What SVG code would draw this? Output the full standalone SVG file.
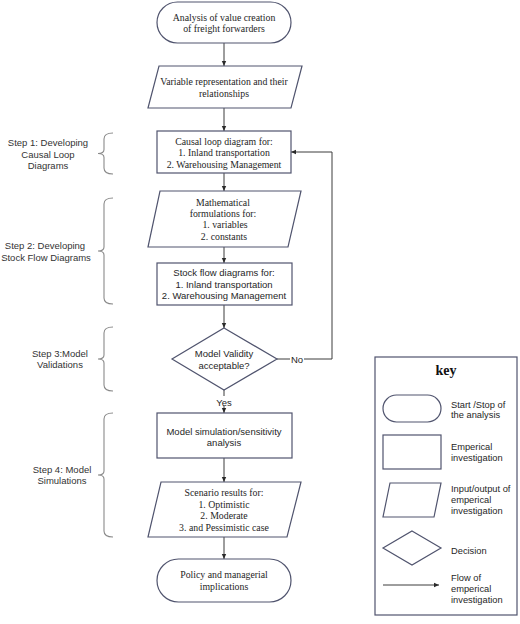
<svg xmlns="http://www.w3.org/2000/svg" width="520" height="624" viewBox="0 0 520 624">
<style>
.shape{fill:#fff;stroke:#50546e;stroke-width:1.2}
.conn{fill:none;stroke:#3c3c3c;stroke-width:1}
.brace{fill:none;stroke:#8a8a8a;stroke-width:1.1}
.serif{font-family:"Liberation Serif","Times New Roman",serif;font-size:9.8px;fill:#1e1e1e;text-anchor:middle}
.sans{font-family:"Liberation Sans",Arial,sans-serif;font-size:9.5px;fill:#262626;text-anchor:middle}
.keyt{font-family:"Liberation Sans",Arial,sans-serif;font-size:9.3px;fill:#262626;text-anchor:start}
.step{font-family:"Liberation Sans",Arial,sans-serif;font-size:9.5px;fill:#333;text-anchor:middle}
</style>
<defs>
<marker id="ah" markerWidth="6" markerHeight="6" refX="5" refY="3" orient="auto" markerUnits="userSpaceOnUse">
<path d="M0,0.8 L5,3 L0,5.2 Z" fill="#2a2a2a"/>
</marker>
</defs>
<rect x="0" y="0" width="520" height="624" fill="#fff"/>

<g id="connectors">
<line class="conn" x1="224" y1="43" x2="224" y2="66" marker-end="url(#ah)"/>
<line class="conn" x1="224" y1="108" x2="224" y2="131" marker-end="url(#ah)"/>
<line class="conn" x1="224" y1="173" x2="224" y2="191" marker-end="url(#ah)"/>
<line class="conn" x1="224" y1="247" x2="224" y2="263" marker-end="url(#ah)"/>
<line class="conn" x1="224" y1="305" x2="224" y2="328" marker-end="url(#ah)"/>
<line class="conn" x1="224" y1="390" x2="224" y2="396"/>
<line class="conn" x1="224" y1="406" x2="224" y2="413" marker-end="url(#ah)"/>
<line class="conn" x1="224" y1="458" x2="224" y2="482" marker-end="url(#ah)"/>
<line class="conn" x1="224" y1="537" x2="224" y2="559" marker-end="url(#ah)"/>
<line class="conn" x1="277" y1="359" x2="290" y2="359"/>
<polyline class="conn" points="304,359 332,359 332,152 291,152" marker-end="url(#ah)"/>
<text class="sans" x="224" y="405.5">Yes</text>
<text class="sans" x="297" y="362.5">No</text>
</g>

<g id="braces">
<path class="brace" d="M113,133 Q104,133 104,139 L104,149.5 Q104,153.5 98,153.5 Q104,153.5 104,157.5 L104,168 Q104,174 113,174"/>
<path class="brace" d="M113,198 Q104,198 104,204 L104,247 Q104,251 98,251 Q104,251 104,255 L104,298 Q104,304 113,304"/>
<path class="brace" d="M113,327 Q104,327 104,333 L104,355 Q104,359 98,359 Q104,359 104,363 L104,385 Q104,391 113,391"/>
<path class="brace" d="M113,413 Q104,413 104,419 L104,471 Q104,475 98,475 Q104,475 104,479 L104,531 Q104,537 113,537"/>
</g>

<g id="step1">
<text class="step" x="48" y="145.5">Step 1: Developing</text>
<text class="step" x="48" y="157.5">Causal Loop</text>
<text class="step" x="48" y="168.5">Diagrams</text>
</g>
<g id="step2">
<text class="step" x="45" y="248.5">Step 2: Developing</text>
<text class="step" x="46" y="260.5">Stock Flow Diagrams</text>
</g>
<g id="step3">
<text class="step" x="60" y="356.5">Step 3:Model</text>
<text class="step" x="60" y="367.5">Validations</text>
</g>
<g id="step4">
<text class="step" x="62" y="472.5">Step 4: Model</text>
<text class="step" x="62" y="483.5">Simulations</text>
</g>

<g id="start">
<rect class="shape" x="157" y="2" width="134" height="41" rx="20.5"/>
<text class="serif" x="224" y="20.5">Analysis of value creation</text>
<text class="serif" x="224" y="31.5">of freight forwarders</text>
</g>
<g id="variables">
<polygon class="shape" points="159,66 302,66 291,108 148,108"/>
<text class="serif" x="224" y="84.5">Variable representation and their</text>
<text class="serif" x="224" y="96.5">relationships</text>
</g>
<g id="causal">
<rect class="shape" x="157" y="131" width="134" height="42"/>
<text class="serif" x="224" y="144.5">Causal loop diagram for:</text>
<text class="serif" x="224" y="155.5">1. Inland transportation</text>
<text class="serif" x="224" y="167.5">2. Warehousing Management</text>
</g>
<g id="math">
<polygon class="shape" points="160,191 301,191 288,247 148,247"/>
<text class="serif" x="223" y="205.5">Mathematical</text>
<text class="serif" x="223" y="216.5">formulations for:</text>
<text class="serif" x="225" y="227.5">1. variables</text>
<text class="serif" x="224" y="239.5">2. constants</text>
</g>
<g id="stock">
<rect class="shape" x="157" y="263" width="135" height="42"/>
<text class="sans" x="224" y="275.5">Stock flow diagrams for:</text>
<text class="sans" x="224" y="287.5">1. Inland transportation</text>
<text class="sans" x="224" y="298.5">2. Warehousing Management</text>
</g>
<g id="validity">
<polygon class="shape" points="224,328 277,359 224,390 172,359"/>
<text class="sans" x="224" y="356.5">Model Validity</text>
<text class="sans" x="224" y="368.5">acceptable?</text>
</g>
<g id="simulation">
<rect class="shape" x="157" y="413" width="135" height="45"/>
<text class="sans" x="224" y="434.5">Model simulation/sensitivity</text>
<text class="sans" x="224" y="445.5">analysis</text>
</g>
<g id="scenario">
<polygon class="shape" points="161,482 301,482 287,537 148,537"/>
<text class="serif" x="224" y="495.5">Scenario results for:</text>
<text class="serif" x="224" y="507.5">1. Optimistic</text>
<text class="serif" x="224" y="518.5">2. Moderate</text>
<text class="serif" x="224" y="530.5">3. and Pessimistic case</text>
</g>
<g id="end">
<rect class="shape" x="157" y="559" width="134" height="43" rx="21.5"/>
<text class="serif" x="224" y="577.5">Policy and managerial</text>
<text class="serif" x="224" y="589.5">implications</text>
</g>

<g id="key">
<rect class="shape" x="375" y="357" width="142" height="258"/>
<text x="446" y="374.5" style="font-family:'Liberation Serif','Times New Roman',serif;font-size:14px;font-weight:bold;fill:#111;text-anchor:middle">key</text>
<rect class="shape" x="383" y="395" width="58" height="27" rx="13.5"/>
<text class="keyt" x="451" y="407.5">Start /Stop of</text>
<text class="keyt" x="451" y="417.5">the analysis</text>
<rect class="shape" x="383" y="435" width="58" height="34"/>
<text class="keyt" x="451" y="449.5">Emperical</text>
<text class="keyt" x="451" y="460.5">investigation</text>
<polygon class="shape" points="390,483 441,483 434,517 383,517"/>
<text class="keyt" x="451" y="491.5">Input/output of</text>
<text class="keyt" x="451" y="502.5">emperical</text>
<text class="keyt" x="451" y="513.5">investigation</text>
<polygon class="shape" points="412,531 441,548 412,565 383,548"/>
<text class="keyt" x="451" y="553.5">Decision</text>
<line class="conn" x1="383" y1="585" x2="439" y2="585" marker-end="url(#ah)"/>
<text class="keyt" x="451" y="580.5">Flow of</text>
<text class="keyt" x="451" y="591.5">emperical</text>
<text class="keyt" x="451" y="602.5">investigation</text>
</g>
</svg>
